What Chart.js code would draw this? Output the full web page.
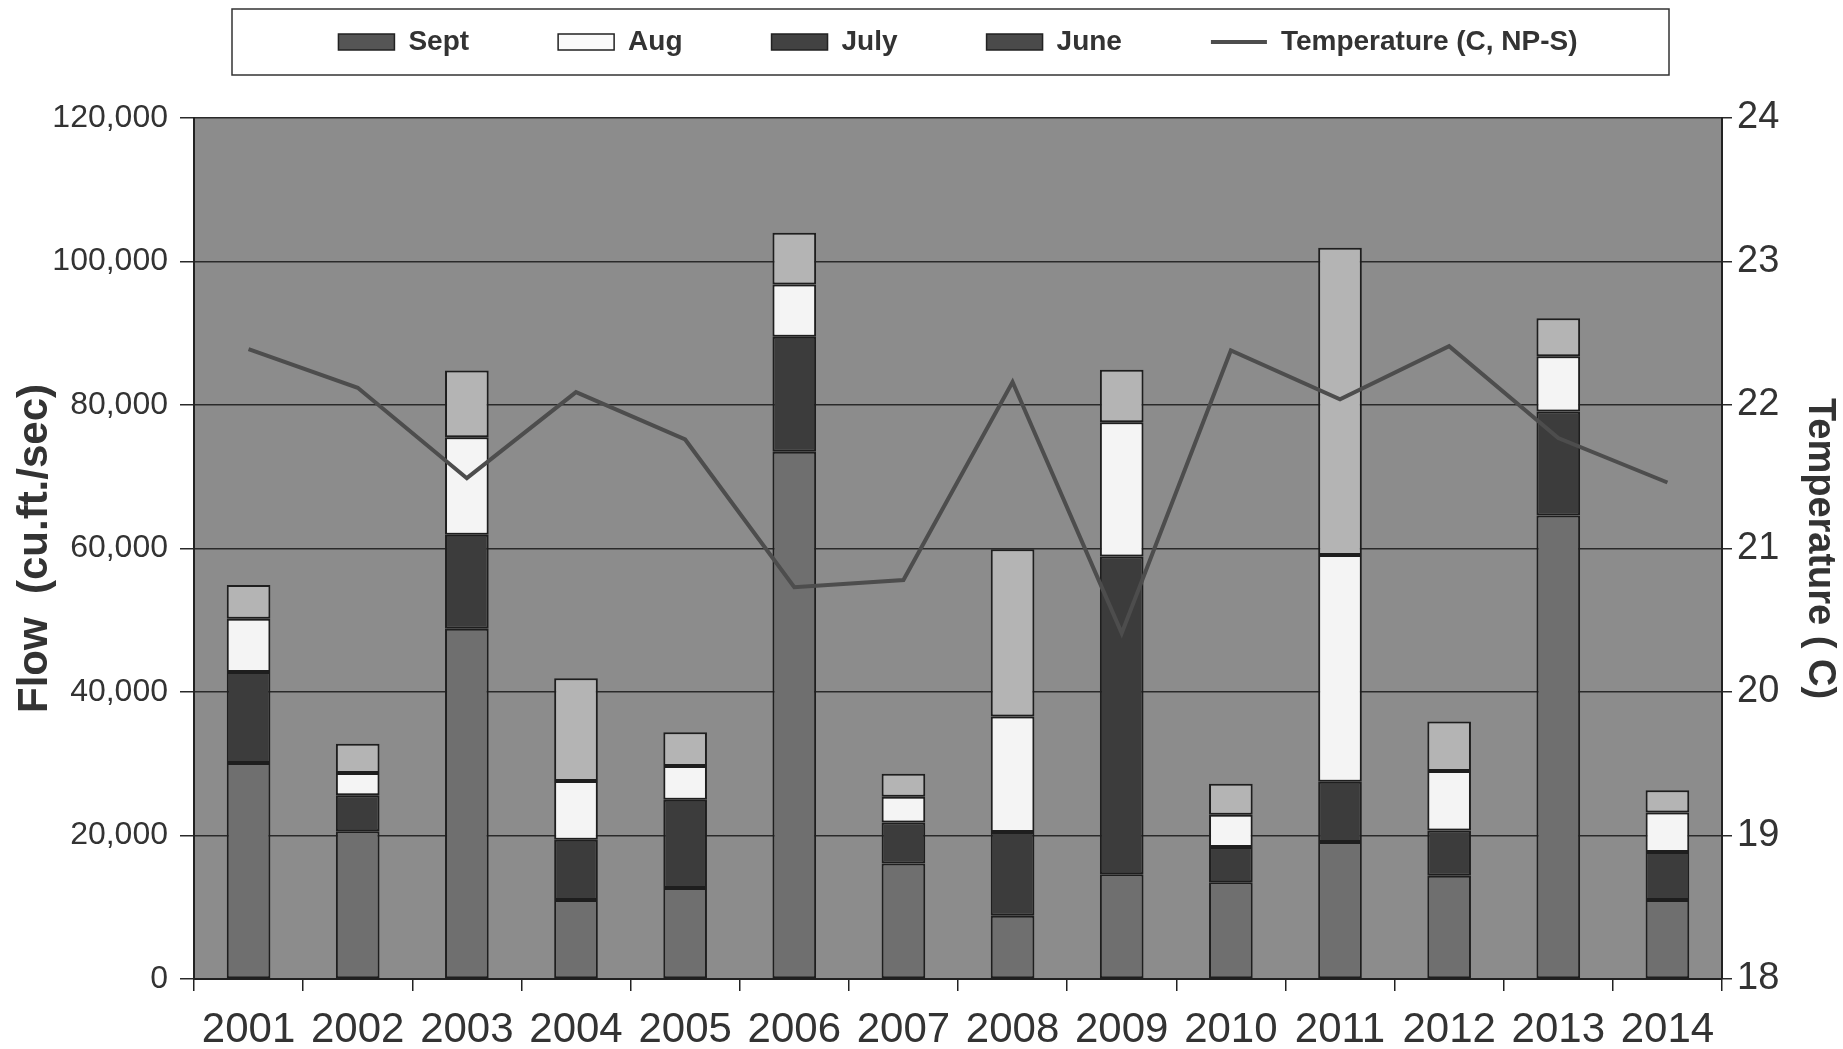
<!DOCTYPE html>
<html>
<head>
<meta charset="utf-8">
<script src="https://cdn.jsdelivr.net/npm/chart.js@4.4.1/dist/chart.umd.min.js"></script>
<style>
    html, body { margin: 0; padding: 0; background: #fff; }
    canvas { display: block; }
</style>
</head>
<body>
<canvas id="flowChart" width="1843" height="1049"></canvas>
<script>
// monthly flow (cu.ft./sec), stacked June at the bottom
const years = ['2001', '2002', '2003', '2004', '2005', '2006', '2007', '2008', '2009', '2010', '2011', '2012', '2013', '2014'];
const june = [30100, 20600, 48800, 11000, 12700, 73500, 16100, 8800, 14600, 13500, 19100, 14400, 64600, 11000];
const july = [12700, 5000, 13100, 8400, 12300, 16000, 5700, 11700, 44300, 4900, 8400, 6300, 14500, 6700];
const aug = [7400, 3100, 13600, 8200, 4700, 7300, 3600, 16100, 18700, 4500, 31600, 8300, 7700, 5500];
const sept = [4700, 4100, 9300, 14300, 4700, 7200, 3200, 23300, 7300, 4300, 42800, 6900, 5300, 3100];
const temperature = [22.39, 22.12, 21.49, 22.09, 21.76, 20.73, 20.78, 22.16, 20.41, 22.38, 22.04, 22.41, 21.77, 21.46];

const FONT = "'Liberation Sans', Arial, sans-serif";
const legendSwatch = ['#4a4a4a', '#424242', '#fafafa', '#555555'];

const backgroundPlugin = {
    id: 'backgroundPlugin',
    beforeDraw(chart) {
        const {ctx, chartArea} = chart;
        ctx.save();
        ctx.fillStyle = '#ffffff';
        ctx.fillRect(0, 0, chart.width, chart.height);
        ctx.fillStyle = '#8c8c8c';
        ctx.fillRect(chartArea.left, chartArea.top, chartArea.right - chartArea.left, chartArea.bottom - chartArea.top);
        ctx.restore();
    }
};

const legendFrame = {
    id: 'legendFrame',
    beforeInit(chart) {
        const fit = chart.legend.fit;
        chart.legend.fit = function () {
            fit.call(this);
            this.height += 52;
        };
    },
    afterDraw(chart) {
        const ctx = chart.ctx;
        ctx.save();
        ctx.strokeStyle = '#333';
        ctx.lineWidth = 1.5;
        ctx.strokeRect(232, 9, 1437, 66);
        ctx.restore();
    }
};

const barStyle = {
    type: 'bar',
    yAxisID: 'y',
    borderColor: '#1e1e1e',
    borderWidth: 2,
    borderSkipped: false,
    categoryPercentage: 0.8,
    barPercentage: 0.5,
    order: 1
};

new Chart(document.getElementById('flowChart'), {
    data: {
        labels: years,
        datasets: [
            {...barStyle, label: 'June', data: june, backgroundColor: '#6f6f6f'},
            {...barStyle, label: 'July', data: july, backgroundColor: '#3c3c3c'},
            {...barStyle, label: 'Aug', data: aug, backgroundColor: '#f4f4f4'},
            {...barStyle, label: 'Sept', data: sept, backgroundColor: '#b4b4b4'},
            {
                type: 'line',
                label: 'Temperature (C, NP-S)',
                data: temperature,
                yAxisID: 'y1',
                borderColor: '#4d4d4d',
                borderWidth: 4,
                pointRadius: 0,
                tension: 0,
                order: 0
            }
        ]
    },
    options: {
        responsive: false,
        animation: false,
        devicePixelRatio: 1,
        layout: {
            padding: {top: -61, left: 0, right: 0, bottom: 0}
        },
        plugins: {
            tooltip: {enabled: false},
            legend: {
                position: 'top',
                fullSize: false,
                labels: {
                    usePointStyle: true,
                    pointStyleWidth: 56,
                    boxHeight: 16,
                    padding: 89,
                    color: '#333',
                    font: {family: FONT, size: 28, weight: 'bold'},
                    generateLabels(chart) {
                        return [3, 2, 1, 0, 4].map(i => {
                            const ds = chart.data.datasets[i];
                            const isLine = ds.type === 'line';
                            return {
                                text: ds.label,
                                datasetIndex: i,
                                fillStyle: isLine ? ds.borderColor : legendSwatch[i],
                                strokeStyle: isLine ? ds.borderColor : '#222',
                                lineWidth: isLine ? 4 : 1.5,
                                pointStyle: isLine ? 'line' : 'rect',
                                hidden: false,
                                fontColor: '#333'
                            };
                        });
                    }
                }
            }
        },
        scales: {
            x: {
                stacked: true,
                grid: {offset: true, drawOnChartArea: false, tickLength: 12, color: '#222', lineWidth: 1.5},
                border: {color: '#222', width: 2},
                ticks: {
                    color: '#333',
                    font: {family: FONT, size: 42},
                    padding: 14,
                    maxRotation: 0,
                    autoSkip: false
                },
                afterFit(scale) {
                    scale.height = 70;
                }
            },
            y: {
                stacked: true,
                position: 'left',
                min: 0,
                max: 120000,
                ticks: {
                    stepSize: 20000,
                    color: '#333',
                    font: {family: FONT, size: 32},
                    padding: 12,
                    callback: v => v.toLocaleString('en-US')
                },
                grid: {color: '#2a2a2a', lineWidth: 1.5, tickLength: 14},
                border: {color: '#222', width: 2},
                title: {
                    display: true,
                    text: 'Flow  (cu.ft./sec)',
                    color: '#333',
                    font: {family: FONT, size: 42, weight: 'bold'},
                    padding: {top: 10, bottom: 0}
                },
                afterFit(scale) {
                    scale.width = 194;
                }
            },
            y1: {
                position: 'right',
                min: 18,
                max: 24,
                ticks: {
                    stepSize: 1,
                    color: '#333',
                    font: {family: FONT, size: 38},
                    padding: 5
                },
                grid: {drawOnChartArea: false, tickLength: 10, color: '#2a2a2a', lineWidth: 1.5},
                border: {color: '#222', width: 2},
                title: {
                    display: true,
                    text: 'Temperature ( C)',
                    color: '#333',
                    font: {family: FONT, size: 38, weight: 'bold'},
                    padding: {top: 1, bottom: 0}
                },
                afterFit(scale) {
                    scale.width = 121;
                }
            }
        }
    },
    plugins: [backgroundPlugin, legendFrame]
});
</script>
</body>
</html>
